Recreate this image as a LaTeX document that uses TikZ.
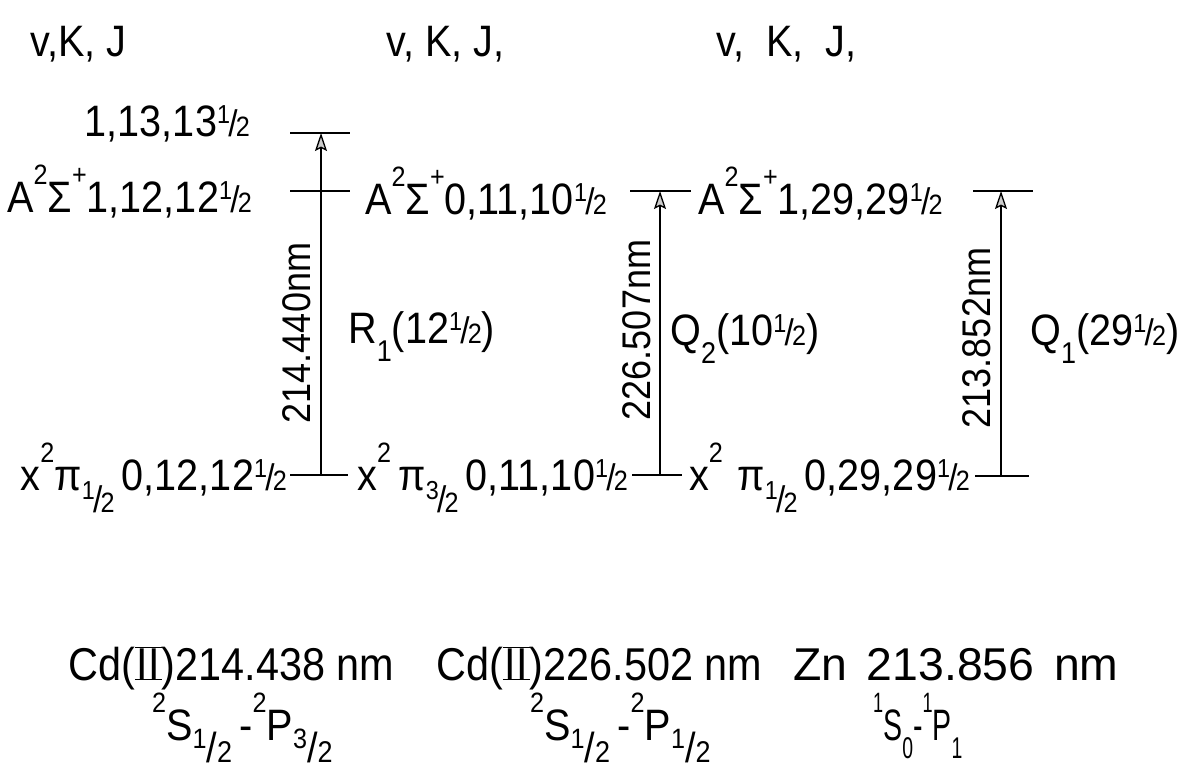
\documentclass[tikz,border=0pt]{standalone}
\usepackage{fontspec}
\setmainfont{Liberation Sans}[FakeStretch=0.9]
\usetikzlibrary{arrows.meta}
\newcommand{\fsz}[1]{\fontsize{#1}{#1}\selectfont}
% vulgar fraction as lettered: raised numerator, slash, lower denominator
\newcommand{\vfr}[2]{\raisebox{0.28em}{\fsz{26}#1}\kern-0.04em{\fsz{37}/}\kern-0.04em{\fsz{28}#2}}
\newcommand{\bvfr}[2]{\raisebox{0.3em}{\fsz{28}#1}{\fsz{42}/}{\fsz{30}#2}}
\newcommand{\supx}[1]{\raisebox{0.62em}{\fsz{28}#1}}
\newcommand{\subx}[1]{\raisebox{-0.42em}{\fsz{30}#1}}
\newcommand{\subfr}[2]{\raisebox{-0.5em}{\vfr{#1}{#2}}}
\newcommand{\lowfr}[2]{\raisebox{-0.5em}{\bvfr{#1}{#2}}}
\newcommand{\hlf}{\vfr{1}{2}}
\newcommand{\romII}{{\setbox0\hbox{\kern1.5pt I\kern1pt I\kern1.5pt}\rlap{\rule{\wd0}{1.3pt}}\rlap{\rule[0.69em]{\wd0}{1.3pt}}\box0}}
\begin{document}
\begin{tikzpicture}[x=1pt,y=-1pt,
  lbl/.style={inner sep=0pt, font=\fsz{44}},
  big/.style={inner sep=0pt, font=\fsz{46}},
  rlbl/.style={inner sep=0pt, font=\fsz{40}, rotate=90},
  lvl/.style={line width=1.3pt},
  trans/.style={line width=1.3pt,-{Stealth[length=18pt,width=12pt,inset=3pt,fill=gray!40]}}]
\useasboundingbox (0,0) rectangle (1193,772);
% column headers
\node[lbl,anchor=base west] (h1) at (30,56) {v,K, J};
\node[lbl,anchor=base west] (h2) at (386,56) {v, K, J,};
\node[lbl,anchor=base west] (h3) at (716,56) {v,\ \ K,\ \ J,};
% level positions
\coordinate (u1) at (321,133);
\coordinate (m1) at (321,191);
\coordinate (l1) at (321,475);
\coordinate (m2) at (660,191);
\coordinate (l2) at (660,475);
\coordinate (m3) at (1001,191);
\coordinate (l3) at (1001,476);
% level lines
\draw[lvl] ([xshift=-31pt]u1) -- ([xshift=29pt]u1);
\draw[lvl] ([xshift=-31pt]m1) -- ([xshift=29pt]m1);
\draw[lvl] ([xshift=-31pt]l1) -- ([xshift=27pt]l1);
\draw[lvl] ([xshift=-30pt]m2) -- ([xshift=31pt]m2);
\draw[lvl] ([xshift=-28pt]l2) -- ([xshift=22pt]l2);
\draw[lvl] ([xshift=-28pt]m3) -- ([xshift=32pt]m3);
\draw[lvl] ([xshift=-26pt]l3) -- ([xshift=28pt]l3);
% transitions
\draw[trans] (l1) -- (u1);
\draw[trans] (l2) -- (m2);
\draw[trans] (l3) -- (m3);
% level labels
\node[lbl,anchor=base east] (t1) at (250,136) {1,13,13\hlf};
\node[lbl,anchor=base east] (a1) at (252,212) {A\supx{2}Σ\supx{+}1,12,12\hlf};
\node[lbl,anchor=base west] (a2) at (365,214) {A\supx{2}Σ\supx{+}0,11,10\hlf};
\node[lbl,anchor=base west] (a3) at (698,214) {A\supx{2}Σ\supx{+}1,29,29\hlf};
\node[lbl,anchor=base east] (x1) at (287,490) {x\supx{2}π\subfr{1}{2}\,0,12,12\hlf};
\node[lbl,anchor=base east] (x2) at (628,490) {x\supx{2}\,π\subfr{3}{2}\,0,11,10\hlf};
\node[lbl,anchor=base east] (x3) at (970,490) {x\supx{2}\,\,π\subfr{1}{2}\,0,29,29\hlf};
% wavelengths (rotated)
\node[rlbl] (w1) at (297,333) {214.440nm};
\node[rlbl] (w2) at (637,330) {226.507nm};
\node[rlbl] (w3) at (977,338) {213.852nm};
% branch labels
\node[lbl,anchor=base west] (b1) at (348,343) {R\subx{1}(12\hlf)};
\node[lbl,anchor=base west] (b2) at (670,345) {Q\subx{2}(10\hlf)};
\node[lbl,anchor=base west] (b3) at (1030,345) {Q\subx{1}(29\hlf)};
% atomic lines
\node[big,anchor=base west] (c1) at (68,680) {Cd(\romII)214.438 nm};
\node[big,anchor=base west] (c2) at (436,680) {Cd(\romII)226.502 nm};
\node[big,anchor=base west] (c3) at (793,680) {\scalebox{1.12}[1]{Zn\hspace{6pt} 213.856\hspace{6pt} nm}};
\node[lbl,anchor=base west] (s1) at (152,740) {\supx{2}S\lowfr{1}{2}\,-\supx{2}P\lowfr{3}{2}};
\node[lbl,anchor=base west] (s2) at (530,740) {\supx{2}S\lowfr{1}{2}\,-\supx{2}P\lowfr{1}{2}};
\node[lbl,anchor=base west] (s3) at (873,740) {\scalebox{0.72}[1]{\supx{1}S\subx{0}-\supx{1}P\subx{1}}};
\end{tikzpicture}
\end{document}
